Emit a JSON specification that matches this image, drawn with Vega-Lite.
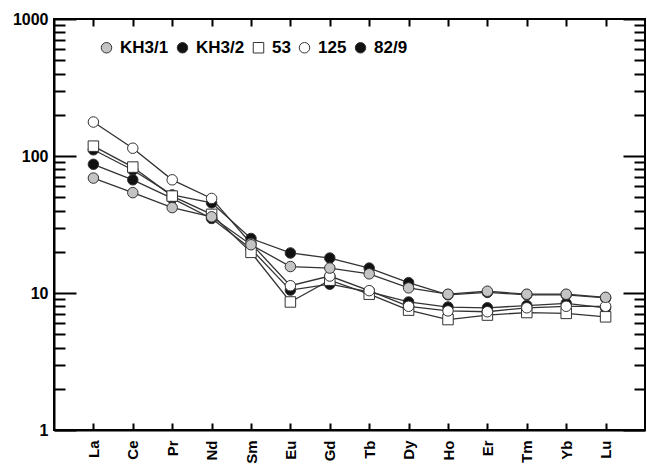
{
  "$schema": "https://vega.github.io/schema/vega-lite/v6.json",
  "width": 591,
  "height": 411,
  "autosize": "none",
  "padding": {"left": 54, "top": 19, "right": 2, "bottom": 40},
  "background": "white",
  "config": {
    "view": {"stroke": "black", "strokeWidth": 2},
    "font": "Liberation Sans"
  },
  "data": {
    "values": [
      {"sample": "KH3/2", "ree": "La", "value": 111},
      {"sample": "KH3/2", "ree": "Ce", "value": 79},
      {"sample": "KH3/2", "ree": "Pr", "value": 52},
      {"sample": "KH3/2", "ree": "Nd", "value": 45.5},
      {"sample": "KH3/2", "ree": "Sm", "value": 25},
      {"sample": "KH3/2", "ree": "Eu", "value": 19.6},
      {"sample": "KH3/2", "ree": "Gd", "value": 18},
      {"sample": "KH3/2", "ree": "Tb", "value": 15.2},
      {"sample": "KH3/2", "ree": "Dy", "value": 11.9},
      {"sample": "KH3/2", "ree": "Ho", "value": 9.7},
      {"sample": "KH3/2", "ree": "Er", "value": 10.1},
      {"sample": "KH3/2", "ree": "Tm", "value": 9.7},
      {"sample": "KH3/2", "ree": "Yb", "value": 9.7},
      {"sample": "KH3/2", "ree": "Lu", "value": 9.2},
      {"sample": "82/9", "ree": "La", "value": 87},
      {"sample": "82/9", "ree": "Ce", "value": 67},
      {"sample": "82/9", "ree": "Pr", "value": 49},
      {"sample": "82/9", "ree": "Nd", "value": 35},
      {"sample": "82/9", "ree": "Sm", "value": 21},
      {"sample": "82/9", "ree": "Eu", "value": 10.5},
      {"sample": "82/9", "ree": "Gd", "value": 11.6},
      {"sample": "82/9", "ree": "Tb", "value": 10.2},
      {"sample": "82/9", "ree": "Dy", "value": 8.6},
      {"sample": "82/9", "ree": "Ho", "value": 7.9},
      {"sample": "82/9", "ree": "Er", "value": 7.8},
      {"sample": "82/9", "ree": "Tm", "value": 8.1},
      {"sample": "82/9", "ree": "Yb", "value": 8.4},
      {"sample": "82/9", "ree": "Lu", "value": 7.8},
      {"sample": "53", "ree": "La", "value": 118},
      {"sample": "53", "ree": "Ce", "value": 83},
      {"sample": "53", "ree": "Pr", "value": 51},
      {"sample": "53", "ree": "Nd", "value": 37.5},
      {"sample": "53", "ree": "Sm", "value": 19.8},
      {"sample": "53", "ree": "Eu", "value": 8.6},
      {"sample": "53", "ree": "Gd", "value": 12.4},
      {"sample": "53", "ree": "Tb", "value": 9.8},
      {"sample": "53", "ree": "Dy", "value": 7.5},
      {"sample": "53", "ree": "Ho", "value": 6.4},
      {"sample": "53", "ree": "Er", "value": 6.9},
      {"sample": "53", "ree": "Tm", "value": 7.2},
      {"sample": "53", "ree": "Yb", "value": 7.1},
      {"sample": "53", "ree": "Lu", "value": 6.7},
      {"sample": "125", "ree": "La", "value": 177},
      {"sample": "125", "ree": "Ce", "value": 114},
      {"sample": "125", "ree": "Pr", "value": 67},
      {"sample": "125", "ree": "Nd", "value": 49},
      {"sample": "125", "ree": "Sm", "value": 23},
      {"sample": "125", "ree": "Eu", "value": 11.3},
      {"sample": "125", "ree": "Gd", "value": 13.3},
      {"sample": "125", "ree": "Tb", "value": 10.4},
      {"sample": "125", "ree": "Dy", "value": 8.0},
      {"sample": "125", "ree": "Ho", "value": 7.4},
      {"sample": "125", "ree": "Er", "value": 7.3},
      {"sample": "125", "ree": "Tm", "value": 7.8},
      {"sample": "125", "ree": "Yb", "value": 8.0},
      {"sample": "125", "ree": "Lu", "value": 8.0},
      {"sample": "KH3/1", "ree": "La", "value": 69},
      {"sample": "KH3/1", "ree": "Ce", "value": 54},
      {"sample": "KH3/1", "ree": "Pr", "value": 42},
      {"sample": "KH3/1", "ree": "Nd", "value": 36},
      {"sample": "KH3/1", "ree": "Sm", "value": 22.5},
      {"sample": "KH3/1", "ree": "Eu", "value": 15.6},
      {"sample": "KH3/1", "ree": "Gd", "value": 15.2},
      {"sample": "KH3/1", "ree": "Tb", "value": 13.8},
      {"sample": "KH3/1", "ree": "Dy", "value": 10.9},
      {"sample": "KH3/1", "ree": "Ho", "value": 9.8},
      {"sample": "KH3/1", "ree": "Er", "value": 10.3},
      {"sample": "KH3/1", "ree": "Tm", "value": 9.8},
      {"sample": "KH3/1", "ree": "Yb", "value": 9.8},
      {"sample": "KH3/1", "ree": "Lu", "value": 9.3}
    ]
  },
  "encoding": {
    "x": {
      "field": "ree", "type": "ordinal",
      "sort": ["La","Ce","Pr","Nd","Sm","Eu","Gd","Tb","Dy","Ho","Er","Tm","Yb","Lu"],
      "scale": {"type": "point", "padding": 1},
      "axis": {
        "orient": "bottom", "title": " ",
        "domain": true, "domainColor": "black", "domainWidth": 2,
        "tickSize": 0,
        "grid": true, "gridColor": "black", "gridWidth": 2, "gridDash": [7, 397, 7],
        "labelAngle": -90, "labelFont": "Liberation Sans", "labelFontWeight": "bold", "labelColor": "black", "labelFontSize": 15, "labelPadding": 10
      }
    },
    "y": {
      "field": "value", "type": "quantitative",
      "scale": {"type": "log", "domain": [1, 1000], "nice": false},
      "axis": {
        "orient": "left", "title": " ",
        "domain": true, "domainColor": "black", "domainWidth": 2,
        "tickSize": 0,
        "values": [1,2,3,4,5,6,7,8,9,10,20,30,40,50,60,70,80,90,100,200,300,400,500,600,700,800,900,1000],
        "labelExpr": "(datum.value == 1 || datum.value == 10 || datum.value == 100 || datum.value == 1000) ? '' + datum.value : ''",
        "labelFont": "Liberation Sans", "labelFontWeight": "bold", "labelColor": "black", "labelFontSize": 16, "labelPadding": 6,
        "grid": true, "gridColor": "black", "gridWidth": 2,
        "gridDash": {"condition": {"test": "datum.value == 1 || datum.value == 10 || datum.value == 100 || datum.value == 1000", "value": [22, 547, 22]}, "value": [11, 569, 11]}
      }
    }
  },
  "layer": [
    {
      "mark": {"type": "line", "color": "#333333", "strokeWidth": 1.3},
      "encoding": {
        "detail": {"field": "sample"}
      }
    },
    {
      "mark": {"type": "point", "filled": true, "stroke": "#333333", "strokeWidth": 1, "size": 110, "opacity": 1},
      "encoding": {
        "shape": {
          "field": "sample", "type": "nominal",
          "scale": {"domain": ["KH3/1","KH3/2","53","125","82/9"], "range": ["circle","circle","square","circle","circle"]}
        },
        "fill": {
          "field": "sample", "type": "nominal",
          "scale": {"domain": ["KH3/1","KH3/2","53","125","82/9"], "range": ["#c4c4c4","#111111","#ffffff","#ffffff","#111111"]},
          "legend": {
            "orient": "none", "legendX": 44, "legendY": 20, "direction": "horizontal", "title": null,
            "padding": 0, "labelFont": "Liberation Sans", "labelFontWeight": "bold", "labelFontSize": 17, "labelColor": "black",
            "symbolSize": 110, "symbolStrokeColor": "#333333", "symbolStrokeWidth": 1, "labelOffset": 5, "columnPadding": 5
          }
        }
      }
    }
  ]
}
